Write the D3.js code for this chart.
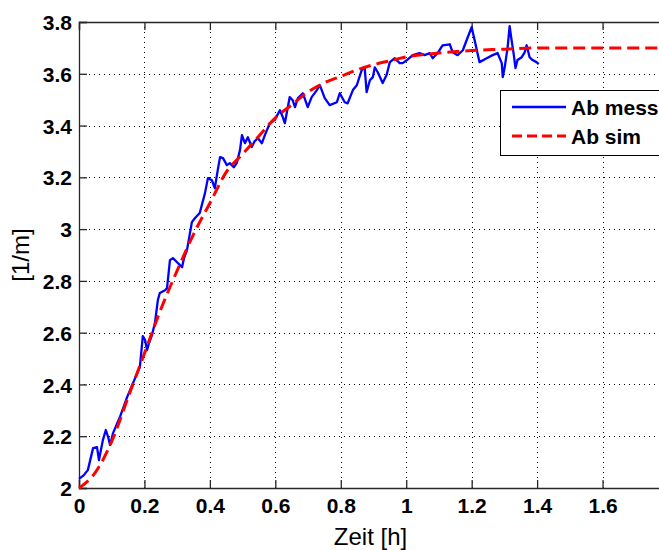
<!DOCTYPE html>
<html>
<head>
<meta charset="utf-8">
<script src="https://cdn.jsdelivr.net/npm/d3@7"></script>
<style>
  html, body { margin: 0; padding: 0; background: #fff; overflow: hidden; }
  svg { display: block; font-family: Arial, "Liberation Sans", Helvetica, sans-serif; }
</style>
</head>
<body>
<svg id="chart" width="659" height="550"></svg>
<script>
// ---- data ----
const messTime = [0, 0.015, 0.027, 0.043, 0.055, 0.061, 0.073, 0.082, 0.089, 0.095, 0.104, 0.125, 0.147, 0.165,
  0.186, 0.195, 0.202, 0.208, 0.214, 0.223, 0.232, 0.241, 0.247, 0.263, 0.269, 0.278, 0.287, 0.302, 0.315, 0.321,
  0.330, 0.345, 0.354, 0.369, 0.385, 0.394, 0.406, 0.415, 0.424, 0.431, 0.440, 0.452, 0.461, 0.473, 0.482, 0.492,
  0.498, 0.507, 0.516, 0.528, 0.537, 0.547, 0.559, 0.568, 0.583, 0.598, 0.614, 0.623, 0.629, 0.644, 0.653, 0.660,
  0.669, 0.684, 0.699, 0.711, 0.727, 0.736, 0.751, 0.766, 0.788, 0.797, 0.812, 0.821, 0.837, 0.849, 0.864, 0.873,
  0.879, 0.889, 0.898, 0.904, 0.913, 0.928, 0.940, 0.950, 0.965, 0.980, 0.989, 1.002, 1.020, 1.041, 1.056, 1.072,
  1.081, 1.096, 1.111, 1.133, 1.142, 1.157, 1.173, 1.188, 1.200, 1.209, 1.224, 1.246, 1.264, 1.279, 1.292, 1.295,
  1.301, 1.310, 1.316, 1.322, 1.328, 1.334, 1.340, 1.353, 1.362, 1.368, 1.377, 1.386, 1.398, 1.405];
const messValue = [2.035, 2.050, 2.069, 2.154, 2.158, 2.108, 2.185, 2.224, 2.197, 2.166, 2.212, 2.274, 2.351, 2.405,
  2.467, 2.587, 2.571, 2.533, 2.560, 2.591, 2.637, 2.726, 2.753, 2.764, 2.772, 2.880, 2.888, 2.869, 2.853, 2.888,
  2.919, 3.027, 3.042, 3.062, 3.139, 3.197, 3.189, 3.158, 3.228, 3.278, 3.274, 3.247, 3.255, 3.239, 3.255, 3.305,
  3.363, 3.332, 3.355, 3.317, 3.340, 3.351, 3.332, 3.363, 3.409, 3.421, 3.459, 3.432, 3.409, 3.510, 3.498, 3.471,
  3.506, 3.525, 3.471, 3.510, 3.537, 3.556, 3.506, 3.479, 3.490, 3.525, 3.490, 3.486, 3.537, 3.556, 3.614, 3.625,
  3.529, 3.575, 3.587, 3.625, 3.606, 3.564, 3.595, 3.645, 3.660, 3.641, 3.641, 3.653, 3.672, 3.680, 3.672, 3.680,
  3.660, 3.680, 3.710, 3.714, 3.683, 3.672, 3.691, 3.741, 3.780, 3.730, 3.645, 3.660, 3.672, 3.680, 3.641, 3.587,
  3.625, 3.703, 3.784, 3.730, 3.680, 3.622, 3.653, 3.664, 3.683, 3.710, 3.664, 3.653, 3.645, 3.637];

const simTime = [0, 0.05, 0.10, 0.15, 0.20, 0.25, 0.30, 0.35, 0.40, 0.45, 0.50, 0.55, 0.60, 0.65, 0.70, 0.75,
  0.80, 0.85, 0.90, 0.95, 1.00, 1.10, 1.20, 1.30, 1.40, 1.60, 1.80];
const simValue = [2.00, 2.06, 2.18, 2.35, 2.52, 2.69, 2.84, 2.98, 3.10, 3.22, 3.29, 3.36, 3.43, 3.48, 3.53, 3.565,
  3.59, 3.615, 3.635, 3.65, 3.665, 3.68, 3.69, 3.695, 3.70, 3.70, 3.70];

const xTicks = [0, 0.2, 0.4, 0.6, 0.8, 1, 1.2, 1.4, 1.6, 1.8];
const xTickLabels = ["0", "0.2", "0.4", "0.6", "0.8", "1", "1.2", "1.4", "1.6", "1.8"];
const yTicks = [2, 2.2, 2.4, 2.6, 2.8, 3, 3.2, 3.4, 3.6, 3.8];
const yTickLabels = ["2", "2.2", "2.4", "2.6", "2.8", "3", "3.2", "3.4", "3.6", "3.8"];
const seriesNames = ["Ab mess", "Ab sim"];
const seriesColors = ["#0000ff", "#ff0000"];
const xLabel = "Zeit [h]";
const yLabel = "[1/m]";

// ---- layout ----
const svg = d3.select("#chart");
const pL = 79, pR = 668, pT = 22, pB = 488;
const x = d3.scaleLinear().domain([0, 1.8]).range([pL, pR]);
const y = d3.scaleLinear().domain([2, 3.8]).range([pB, pT]);

// grid
const grid = svg.append("g").attr("stroke", "#000").attr("stroke-width", 1)
  .attr("stroke-dasharray", "1,4").attr("fill", "none");
grid.selectAll("line.gx").data(xTicks.slice(1)).join("line")
  .attr("x1", d => Math.round(x(d)) + 0.5).attr("x2", d => Math.round(x(d)) + 0.5)
  .attr("y1", pT).attr("y2", pB);
grid.selectAll("line.gy").data(yTicks.slice(1)).join("line")
  .attr("x1", pL).attr("x2", pR)
  .attr("y1", d => Math.round(y(d)) + 0.5).attr("y2", d => Math.round(y(d)) + 0.5);

// axes (MATLAB style, inward ticks, box)
const tickLen = 8;
const axisColor = "#262626";
const xb = svg.append("g").attr("transform", `translate(0,${pB})`)
  .call(d3.axisBottom(x).tickValues(xTicks).tickSize(-tickLen).tickFormat((d, i) => xTickLabels[i]));
const xt = svg.append("g").attr("transform", `translate(0,${pT})`)
  .call(d3.axisTop(x).tickValues(xTicks).tickSize(-tickLen).tickFormat(""));
const yl = svg.append("g").attr("transform", `translate(${pL},0)`)
  .call(d3.axisLeft(y).tickValues(yTicks).tickSize(-tickLen).tickFormat((d, i) => yTickLabels[i]));
const yr = svg.append("g").attr("transform", `translate(${pR},0)`)
  .call(d3.axisRight(y).tickValues(yTicks).tickSize(-tickLen).tickFormat(""));
[xb, xt, yl, yr].forEach(g => {
  g.selectAll("path.domain").attr("stroke", axisColor).attr("stroke-width", 1.3);
  g.selectAll(".tick line").attr("stroke", axisColor).attr("stroke-width", 1.3);
  g.selectAll("text").attr("fill", "#000").attr("font-size", 21).attr("font-weight", "bold")
    .attr("font-family", "Arial, 'Liberation Sans', sans-serif");
});
xb.selectAll(".tick text").attr("dy", null).attr("y", 25);
yl.selectAll(".tick text").attr("x", -7).attr("dy", "0.36em");
// hide 1.8 label (outside visible area in reference)
xb.selectAll(".tick text").filter(d => d > 1.7).remove();

// lines
const lineGen = d3.line().x(d => x(d[0])).y(d => y(d[1]));
const simGen = d3.line().x(d => x(d[0])).y(d => y(d[1])).curve(d3.curveMonotoneX);
const messData = messTime.map((t, i) => [t, messValue[i]]);
const simData = simTime.map((t, i) => [t, simValue[i]]);

svg.append("path").datum(messData).attr("d", lineGen)
  .attr("fill", "none").attr("stroke", seriesColors[0]).attr("stroke-width", 2.3)
  .attr("stroke-linejoin", "round");
svg.append("path").datum(simData).attr("d", simGen)
  .attr("fill", "none").attr("stroke", seriesColors[1]).attr("stroke-width", 3)
  .attr("stroke-dasharray", "12,6");

// axis labels
svg.append("text").attr("x", (pL + pR) / 2 - 3).attr("y", 545)
  .attr("text-anchor", "middle").attr("font-size", 24).attr("fill", "#000").text(xLabel);
svg.append("text").attr("transform", `translate(29,${(pT + pB) / 2}) rotate(-90)`)
  .attr("text-anchor", "middle").attr("font-size", 24).attr("fill", "#000").text(yLabel);

// legend
const lg = svg.append("g");
lg.append("rect").attr("x", 500.5).attr("y", 90.5).attr("width", 200).attr("height", 65)
  .attr("fill", "#fff").attr("stroke", "#000").attr("stroke-width", 1);
const legendY = [107, 136];
seriesNames.forEach((name, i) => {
  lg.append("line").attr("x1", 512).attr("x2", 566).attr("y1", legendY[i]).attr("y2", legendY[i])
    .attr("stroke", seriesColors[i]).attr("stroke-width", i === 0 ? 2.3 : 3)
    .attr("stroke-dasharray", i === 0 ? null : "10,5");
  lg.append("text").attr("x", 571).attr("y", legendY[i] + 8)
    .attr("font-size", 21).attr("font-weight", "bold").attr("fill", "#000").text(name);
});
</script>
</body>
</html>
